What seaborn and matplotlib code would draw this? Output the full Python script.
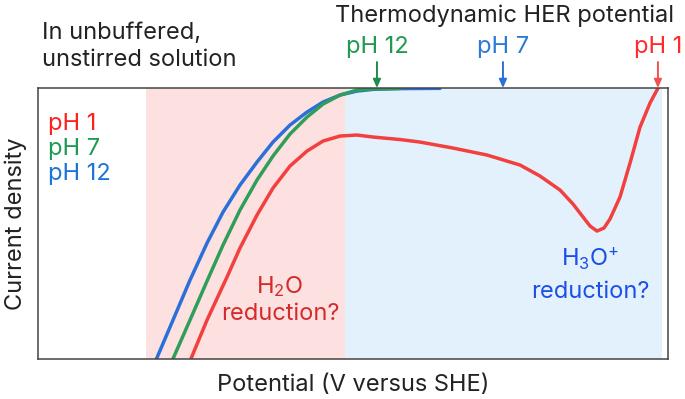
import numpy as np
import pandas as pd
import matplotlib.pyplot as plt
import seaborn as sns

# potential (arbitrary units, 0-100 across the frame) and current density (0-100)
x_ph12 = [18.73, 21.43, 24.13, 26.83, 29.37, 32.06, 34.76, 37.30, 40.00, 42.70, 45.24,
          47.94, 50.63, 53.17, 57.46, 63.80]
y_ph12 = [-0.37, 14.39, 29.15, 42.80, 54.24, 64.21, 72.69, 80.07, 86.35, 91.14, 94.83,
          97.42, 98.89, 99.52, 99.80, 99.90]

x_ph7 = [21.27, 24.13, 26.83, 29.37, 32.06, 34.76, 37.30, 40.00, 42.70, 45.24, 47.94,
         50.63, 53.17, 57.46]
y_ph7 = [-0.74, 14.39, 28.78, 42.07, 54.98, 66.05, 74.91, 83.03, 89.30, 94.10, 97.42,
         99.26, 99.70, 99.85]

x_ph1 = [24.13, 26.83, 30.00, 32.06, 34.76, 37.30, 40.00, 42.70, 45.24, 47.94, 50.63, 53.17,
         57.46, 60.63, 65.87, 71.27, 76.51, 79.68, 82.86, 84.92, 86.51, 87.62, 88.73, 89.84,
         90.79, 92.38, 93.97, 95.56, 97.14, 98.41, 99.20]
y_ph1 = [-0.74, 14.39, 30.26, 40.96, 53.14, 63.10, 71.22, 76.75, 80.44, 82.29, 82.66, 81.92,
         81.00, 80.07, 77.86, 75.28, 71.59, 67.53, 62.36, 57.20, 52.40, 49.08, 47.23, 48.34,
         51.66, 59.78, 72.32, 85.61, 94.46, 100.0, 102.9]

labels = ['pH 1', 'pH 7', 'pH 12']
colors = ['#f2403f', '#2f9e5a', '#2b6fd8']
label_colors = ['#ff2020', '#1e9a55', '#1f74d8']

# thermodynamic HER potential markers
her_x = [53.8, 73.8, 98.4]
her_labels = ['pH 12', 'pH 7', 'pH 1']
her_colors = ['#1f8a4c', '#2b6fd8', '#f05050']
her_text_colors = ['#1f9a50', '#2b7ad8', '#ff2a2a']

water_span = (17.1, 48.7)
hydronium_span = (48.7, 99.0)

df = pd.concat([
    pd.DataFrame({'potential': x_ph1, 'current': y_ph1, 'pH': 'pH 1'}),
    pd.DataFrame({'potential': x_ph7, 'current': y_ph7, 'pH': 'pH 7'}),
    pd.DataFrame({'potential': x_ph12, 'current': y_ph12, 'pH': 'pH 12'}),
])

sns.set_style('white')
plt.rcParams['font.family'] = ['Inter', 'DejaVu Sans']
plt.rcParams['mathtext.fontset'] = 'custom'
plt.rcParams['mathtext.rm'] = 'Inter'
plt.rcParams['mathtext.it'] = 'Inter'
FS = 17

fig = plt.figure(figsize=(6.85, 3.99), dpi=100)
ax = fig.add_axes([0.0555, 0.1003, 0.9197, 0.679])

ax.axvspan(*water_span, color='#fde0e0', lw=0, zorder=0)
ax.axvspan(*hydronium_span, color='#e3f1fd', lw=0, zorder=0)

# blue first, red on top
pal = dict(zip(labels, colors))
for ph in ['pH 12', 'pH 7', 'pH 1']:
    sub = df[df['pH'] == ph]
    sns.lineplot(data=sub, x='potential', y='current', sort=False, color=pal[ph],
                 lw=2.5, ax=ax, solid_capstyle='round', solid_joinstyle='round')

ax.set_xlim(0, 100)
ax.set_ylim(0, 100)
ax.set_xticks([])
ax.set_yticks([])
ax.set_xlabel('Potential (V versus SHE)', fontsize=FS, labelpad=11, color='#222222')
ax.set_ylabel('Current density', fontsize=FS, labelpad=8, color='#222222')
for s in ax.spines.values():
    s.set_color('#444444')
    s.set_linewidth(1.1)

# legend-like labels
for i, (lab, c) in enumerate(zip(labels, label_colors)):
    ax.text(1.6, 84.5 - i * 9.2, lab, color=c, fontsize=FS, ha='left', va='baseline')

ax.text(0.006, 1.245, 'In unbuffered,\nunstirred solution', transform=ax.transAxes,
        fontsize=FS, ha='left', va='top', color='#222222', linespacing=1.3)
ax.text(74.0, 1.2435, 'Thermodynamic HER potential', transform=ax.get_xaxis_transform(),
        fontsize=FS, ha='center', va='baseline', color='#222222')

for xv, lab, ac, tc in zip(her_x, her_labels, her_colors, her_text_colors):
    ax.annotate('', xy=(xv, 1.0), xycoords=('data', 'axes fraction'),
                xytext=(xv, 1.096), textcoords=('data', 'axes fraction'),
                arrowprops=dict(arrowstyle='-|>,head_length=0.5,head_width=0.22',
                                color=ac, lw=1.4, shrinkA=0, shrinkB=0))
    ax.text(xv, 1.129, lab, transform=ax.get_xaxis_transform(), fontsize=FS,
            ha='center', va='baseline', color=tc)

ax.text(38.4, 24.3, 'H$_2$O', fontsize=FS, ha='center', va='baseline', color='#d42a2a')
ax.text(38.4, 14.4, 'reduction?', fontsize=FS, ha='center', va='baseline', color='#d42a2a')
ax.text(87.6, 34.5, 'H$_3$O$^{+}$', fontsize=FS, ha='center', va='baseline', color='#1c4fe8')
ax.text(87.6, 22.5, 'reduction?', fontsize=FS, ha='center', va='baseline', color='#1c4fe8')

fig.savefig('out.png', dpi=100)
